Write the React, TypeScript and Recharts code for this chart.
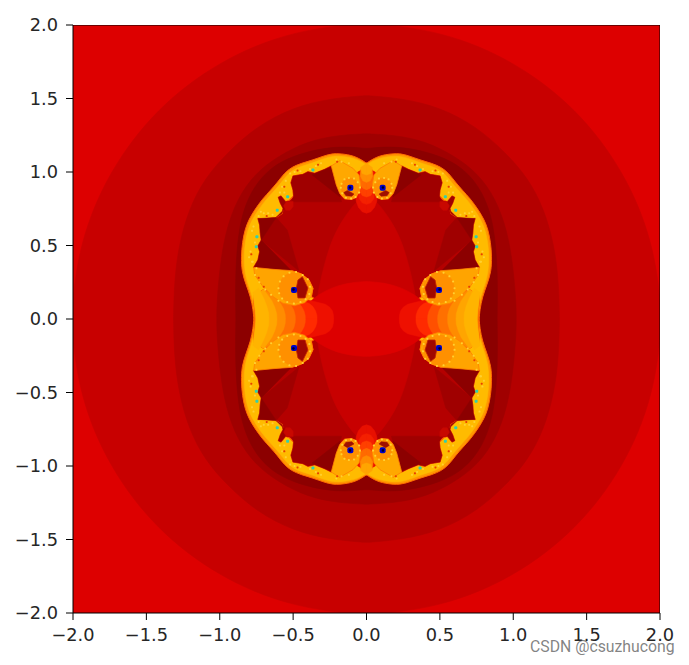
import React from 'react';
import { ScatterChart, Scatter, XAxis, YAxis, Curve } from 'recharts';

type Pt = [number, number];

const TICKS = [-2, -1.5, -1, -0.5, 0, 0.5, 1, 1.5, 2];

// Level sets. The fractal is mirrored across both axes,
// so only the upper right quarter of each contour is listed.
const FIELD: Pt[] = [[-2, 2], [2, 2], [2, -2], [-2, -2]];
const LEVEL_1: Pt[] = [[0, 2.01], [0.26, 1.99], [0.52, 1.94], [0.77, 1.855], [1, 1.74], [1.22, 1.595], [1.42, 1.42], [1.595, 1.22], [1.74, 1], [1.855, 0.77], [1.94, 0.52], [1.99, 0.26], [2.01, 0]];
const LEVEL_2: Pt[] = [[0, 1.52], [0.25, 1.5], [0.5, 1.44], [0.75, 1.31], [0.95, 1.13], [1.1, 0.96], [1.21, 0.75], [1.28, 0.5], [1.31, 0.25], [1.315, 0]];
const LEVEL_3: Pt[] = [[0, 1.26], [0.2, 1.25], [0.4, 1.21], [0.6, 1.11], [0.76, 0.99], [0.88, 0.82], [0.96, 0.6], [1, 0.35], [1.02, 0.1], [1.02, 0]];
const LEVEL_4: Pt[] = [[0, 1.16], [0.227, 1.18], [0.5, 1.115], [0.67, 1.02], [0.79, 0.87], [0.87, 0.65], [0.895, 0.31], [0.89, 0]];

const SILHOUETTE: Pt[] = [[0, 1.06], [0.069, 1.105], [0.148, 1.122], [0.227, 1.128], [0.295, 1.108], [0.364, 1.082], [0.444, 1.06], [0.512, 1.032], [0.562, 0.99], [0.606, 0.93], [0.652, 0.878], [0.71, 0.815], [0.76, 0.746], [0.801, 0.678], [0.828, 0.61], [0.846, 0.52], [0.854, 0.424], [0.85, 0.322], [0.82, 0.231], [0.79, 0.152], [0.772, 0.061], [0.768, 0]];
const CORE: Pt[] = [[0, 1.05], [0.069, 1.09], [0.148, 1.105], [0.227, 1.11], [0.295, 1.09], [0.364, 1.062], [0.444, 1.04], [0.505, 1.012], [0.55, 0.97], [0.59, 0.915], [0.64, 0.86], [0.695, 0.8], [0.745, 0.73], [0.785, 0.665], [0.81, 0.6], [0.828, 0.515], [0.835, 0.42], [0.83, 0.32], [0.805, 0.23], [0.775, 0.15], [0.757, 0.06], [0.752, 0]];
const INTERIOR: Pt[] = [[0, 0.775], [0.047, 0.798], [0.069, 0.828], [0.103, 0.814], [0.149, 0.819], [0.183, 0.855], [0.206, 0.912], [0.224, 0.98], [0.24, 1.041], [0.285, 1.018], [0.353, 0.991], [0.399, 1.002], [0.433, 0.984], [0.501, 0.973], [0.515, 0.927], [0.501, 0.878], [0.497, 0.837], [0.524, 0.81], [0.551, 0.798], [0.583, 0.837], [0.601, 0.828], [0.587, 0.787], [0.569, 0.753], [0.574, 0.719], [0.615, 0.692], [0.683, 0.683], [0.74, 0.683], [0.728, 0.639], [0.724, 0.583], [0.717, 0.537], [0.74, 0.497], [0.728, 0.458], [0.74, 0.401], [0.769, 0.351], [0.637, 0.338], [0.512, 0.329], [0.444, 0.306], [0.392, 0.265], [0.365, 0.209], [0.376, 0.152], [0.331, 0.125], [0.262, 0.073], [0.233, 0.016], [0.228, 0]];
const LENS: Pt[] = [[0, 0.82], [0.05, 0.81], [0.078, 0.789], [0.16, 0.68], [0.228, 0.558], [0.28, 0.4], [0.317, 0.245], [0.34, 0.12], [0.345, 0]];
const CENTRE: Pt[] = [[0, 0.255], [0.08, 0.25], [0.16, 0.236], [0.24, 0.211], [0.32, 0.17], [0.385, 0.12], [0.42, 0.075], [0.435, 0]];

// Dark wedges in the notches between the petals
const WEDGE_TOP: Pt[] = [[0.17, 0.797], [0.183, 0.855], [0.206, 0.912], [0.224, 0.98], [0.24, 1.041], [0.285, 1.018], [0.353, 0.991], [0.399, 1.002], [0.433, 0.984], [0.501, 0.973], [0.515, 0.927], [0.501, 0.878], [0.497, 0.837], [0.51, 0.797]];
const WEDGE_TOP_DARK: Pt[] = [[0.235, 1.034], [0.371, 0.98], [0.18, 0.83]];
const WEDGE_SIDE: Pt[] = [[0.51, 0.797], [0.551, 0.798], [0.583, 0.837], [0.601, 0.828], [0.587, 0.787], [0.569, 0.753], [0.574, 0.719], [0.615, 0.692]];
const WEDGE_FAN: Pt[] = [[0.717, 0.537], [0.46, 0.326], [0.54, 0.605], [0.615, 0.69]];
const WEDGE_UPPER: Pt[] = [[0.615, 0.69], [0.74, 0.683], [0.728, 0.639], [0.724, 0.583], [0.717, 0.537]];
const WEDGE_LOWER: Pt[] = [[0.717, 0.537], [0.74, 0.497], [0.728, 0.458], [0.74, 0.401], [0.769, 0.351], [0.637, 0.338], [0.512, 0.329]];
const GLOW_FINGER: Pt[] = [[0.5, 0.8], [0.545, 0.8], [0.565, 0.77], [0.55, 0.74], [0.52, 0.74], [0.5, 0.765]];

// Tongues on the axes, red at the tip and yellow towards the band
const SIDE_TONGUES: Pt[][] = [
  [[0.224, 0], [0.225, 0.025], [0.232, 0.055], [0.25, 0.08], [0.28, 0.1], [0.32, 0.11], [0.4, 0.13], [0.7, 0.2], [0.77, 0.16], [0.762, 0.06], [0.76, 0]],
  [[0.337, 0], [0.338, 0.025], [0.347, 0.055], [0.365, 0.085], [0.39, 0.105], [0.43, 0.12], [0.7, 0.2], [0.77, 0.16], [0.762, 0.06], [0.76, 0]],
  [[0.417, 0], [0.418, 0.025], [0.426, 0.055], [0.445, 0.09], [0.47, 0.11], [0.5, 0.12], [0.7, 0.2], [0.77, 0.16], [0.762, 0.06], [0.76, 0]],
  [[0.485, 0], [0.486, 0.025], [0.495, 0.06], [0.515, 0.095], [0.56, 0.125], [0.7, 0.2], [0.77, 0.16], [0.762, 0.06], [0.76, 0]],
  [[0.553, 0], [0.554, 0.03], [0.565, 0.07], [0.585, 0.105], [0.62, 0.15], [0.7, 0.2], [0.77, 0.16], [0.762, 0.06], [0.76, 0]],
  [[0.61, 0], [0.612, 0.035], [0.625, 0.08], [0.645, 0.125], [0.7, 0.2], [0.77, 0.16], [0.755, 0.06], [0.752, 0]],
  [[0.665, 0], [0.667, 0.04], [0.68, 0.09], [0.7, 0.14], [0.735, 0.21], [0.775, 0.18], [0.757, 0.06], [0.752, 0]],
];
const TOP_TONGUES: Pt[][] = [
  [[0, 0.72], [0.03, 0.73], [0.055, 0.76], [0.07, 0.8], [0.08, 0.9], [0.06, 1], [0, 1.03]],
  [[0, 0.78], [0.03, 0.79], [0.05, 0.82], [0.06, 0.9], [0.05, 1], [0, 1.03]],
  [[0, 0.83], [0.03, 0.84], [0.045, 0.87], [0.05, 0.93], [0.04, 1], [0, 1.03]],
  [[0, 0.88], [0.025, 0.89], [0.042, 0.92], [0.045, 0.97], [0.03, 1.02], [0, 1.04]],
  [[0, 0.93], [0.025, 0.94], [0.04, 0.97], [0.04, 1.02], [0, 1.05]],
  [[0, 0.98], [0.03, 0.99], [0.04, 1.03], [0, 1.06]],
];

// The two spiral lobes
const LOBE_TOP: Pt[] = [[0.092, 1.025], [0.051, 0.98], [0.0375, 0.9], [0.069, 0.828], [0.103, 0.814], [0.149, 0.819], [0.183, 0.855], [0.206, 0.912], [0.224, 0.98], [0.24, 1.041], [0.183, 1.077]];
const LOBE_SIDE: Pt[] = [[0.512, 0.329], [0.444, 0.306], [0.392, 0.265], [0.365, 0.209], [0.376, 0.152], [0.422, 0.111], [0.49, 0.091], [0.569, 0.107], [0.637, 0.152], [0.705, 0.22], [0.762, 0.3], [0.769, 0.351], [0.637, 0.338]];
const RING_TOP: Pt[] = [[0.175, 0.893], [0.17, 0.92], [0.15, 0.95], [0.12, 0.96], [0.085, 0.955], [0.06, 0.93], [0.045, 0.895], [0.05, 0.86], [0.075, 0.83], [0.105, 0.82], [0.14, 0.825], [0.165, 0.855]];
const RING_SIDE: Pt[] = [[0.6, 0.21], [0.59, 0.255], [0.565, 0.29], [0.525, 0.315], [0.48, 0.32], [0.435, 0.3], [0.4, 0.27], [0.385, 0.22], [0.39, 0.17], [0.415, 0.135], [0.45, 0.115], [0.495, 0.105], [0.54, 0.115], [0.575, 0.14], [0.595, 0.175]];
const NOTCH_TOP: Pt[] = [[0.085, 0.85], [0.1, 0.835], [0.14, 0.838], [0.155, 0.86], [0.13, 0.875]];
const NOTCH_SIDE: Pt[] = [[0.437, 0.288], [0.399, 0.211], [0.419, 0.143], [0.467, 0.143], [0.478, 0.211], [0.467, 0.265]];

const SPECKS_YELLOW: Pt[] = [[0.6, 0.125], [0.65, 0.165], [0.69, 0.2], [0.73, 0.25], [0.76, 0.3], [0.75, 0.345], [0.775, 0.39], [0.12, 1.06], [0.17, 1.07], [0.205, 1.085], [0.31, 1.06], [0.345, 1.04], [0.385, 1.02], [0.45, 1.005], [0.49, 1], [0.52, 0.99], [0.55, 0.94], [0.575, 0.9], [0.56, 0.86], [0.59, 0.86], [0.64, 0.71], [0.67, 0.72], [0.7, 0.72], [0.72, 0.73], [0.735, 0.7], [0.77, 0.63], [0.78, 0.6], [0.76, 0.52], [0.79, 0.46], [0.8, 0.42], [0.78, 0.39]];
const SPECKS_RED: Pt[] = [[0.7, 0.22], [0.735, 0.28], [0.33, 1.05], [0.47, 1.01], [0.56, 0.9], [0.68, 0.7], [0.785, 0.44], [0.2, 1.07]];
const SPOTS_CYAN: Pt[] = [[0.365, 1.014], [0.5375, 0.832], [0.608, 0.739], [0.747, 0.56], [0.751, 0.492], [0.103, 0.885], [0.485, 0.19]];
const SPOTS_BLUE: Pt[] = [[0.11, 0.893], [0.494, 0.197]];
const SPOTS_BLACK: Pt[] = [[0.112, 0.895], [0.498, 0.2]];

const FRAME: Pt[] = [[-2, 2], [2, 2], [2, -2], [-2, -2]];

const SIDE_COLORS = ['#ee1000', '#ff2a00', '#ff5000', '#ff7000', '#ff8c00', '#ffa500', '#ffb400'];
const TOP_COLORS = ['#e81000', '#f42000', '#ff4000', '#ff6a00', '#ff8c00', '#ffa500'];

const loop = (q: Pt[]): Pt[] => [
  ...q,
  ...[...q].reverse().map(([x, y]): Pt => [x, -y]),
  ...q.map(([x, y]): Pt => [-x, -y]),
  ...[...q].reverse().map(([x, y]): Pt => [-x, y]),
];
const fourWay = (pts: Pt[]): Pt[][] => [
  pts,
  pts.map(([x, y]): Pt => [-x, y]),
  pts.map(([x, y]): Pt => [x, -y]),
  pts.map(([x, y]): Pt => [-x, -y]),
];
const flip = (pts: Pt[]): Pt[] => fourWay(pts).flat();
const toRows = (pts: Pt[]) => pts.map(([x, y]) => ({ x, y }));

const noDot = () => <g />;
const fillLine = (fill: string, stroke: string, strokeWidth: number, type: any) => (props: any) => (
  <Curve type={type} points={props.points} fill={fill} stroke={stroke} strokeWidth={strokeWidth} />
);
const spot = (size: number, fill: string) => (props: any) => (
  <rect x={props.cx - size / 2} y={props.cy - size / 2} width={size} height={size} rx={size / 3} fill={fill} />
);

const Region = (pts: Pt[], fill: string, stroke: string, width: number, key: string, type = 'linearClosed') => (
  <Scatter
    key={key}
    data={toRows(pts)}
    line={fillLine(fill, stroke, width, type)}
    shape={noDot}
    isAnimationActive={false}
  />
);
const Smooth = (q: Pt[], fill: string, stroke = fill, width = 0.6) =>
  Region(loop(q), fill, stroke, width, `c-${fill}-${q.length}`, 'basisClosed');
const Mirrored = (pts: Pt[], fill: string, key: string, stroke = fill, width = 0.5) =>
  fourWay(pts).map((p, i) => Region(p, fill, stroke, width, `${key}${i}`));
const Specks = (pts: Pt[], size: number, fill: string) => (
  <Scatter key={`s-${fill}-${size}`} data={toRows(flip(pts))} shape={spot(size, fill)} isAnimationActive={false} />
);

const tickStyle = { fill: '#262626', fontSize: 17.8, fontFamily: 'DejaVu Sans' };
const tickText = (v: number) => v.toFixed(1).replace('-', '\u2212');

const App: React.FC = () => {
  return (
    <div style={{ position: 'absolute', left: 0, top: 0, width: 689, height: 665, background: '#fff' }}>
      <ScatterChart width={689} height={665} margin={{ top: 25, right: 29, bottom: 0, left: 0 }}>
        <XAxis
          type="number"
          dataKey="x"
          domain={[-2, 2]}
          ticks={TICKS}
          interval={0}
          allowDataOverflow
          height={52}
          tickSize={7}
          tickMargin={8}
          stroke="#000"
          tick={tickStyle}
          tickFormatter={tickText}
        />
        <YAxis
          type="number"
          dataKey="y"
          domain={[-2, 2]}
          ticks={TICKS}
          interval={0}
          allowDataOverflow
          width={73}
          tickSize={7}
          tickMargin={8}
          stroke="#000"
          tick={tickStyle}
          tickFormatter={tickText}
        />
        {Region(FIELD, '#dd0000', '#dd0000', 0, 'field')}
        {Smooth(LEVEL_1, '#c80000')}
        {Smooth(LEVEL_2, '#b40000')}
        {Smooth(LEVEL_3, '#a00000')}
        {Smooth(LEVEL_4, '#8c0000')}
        {Smooth(SILHOUETTE, '#ff9800', '#ff6a00', 1)}
        {Smooth(CORE, '#ffbb00')}
        {Region(loop(INTERIOR), '#b40000', '#ff6000', 1.1, 'interior')}
        {Mirrored(WEDGE_TOP, '#a00000', 'wt')}
        {Mirrored(WEDGE_TOP_DARK, '#8c0000', 'wd')}
        {Mirrored(WEDGE_SIDE, '#a00000', 'ws')}
        {Mirrored(WEDGE_FAN, '#a00000', 'wf')}
        {Mirrored(WEDGE_UPPER, '#8c0000', 'wu')}
        {Mirrored(WEDGE_LOWER, '#8c0000', 'wl')}
        {Smooth(LENS, '#c80000')}
        {Smooth(CENTRE, '#dd0000')}
        {Mirrored(GLOW_FINGER, '#c80800', 'gf')}
        {SIDE_TONGUES.map((band, b) => Mirrored(band, SIDE_COLORS[b], `side${b}-`))}
        {TOP_TONGUES.map((band, b) => Mirrored(band, TOP_COLORS[b], `top${b}-`))}
        {Mirrored(LOBE_TOP, '#ffa800', 'lt', '#ff8000', 0.8)}
        {Mirrored(LOBE_SIDE, '#ffa400', 'ls', '#ff8000', 0.8)}
        {Mirrored(RING_TOP, '#ff9000', 'rt')}
        {Mirrored(RING_SIDE, '#ff9000', 'rs')}
        {Mirrored(NOTCH_TOP, '#a01000', 'nt')}
        {Mirrored(NOTCH_SIDE, '#a00800', 'ns', '#c02000', 0.8)}
        {Specks([...RING_TOP, ...RING_SIDE, ...SPECKS_YELLOW], 2, '#ffd030')}
        {Specks(SPECKS_RED, 2, '#e84000')}
        {Specks(SPOTS_CYAN, 3, '#30d0b0')}
        {Specks(SPOTS_BLUE, 6, '#0000c8')}
        {Specks(SPOTS_BLACK, 2.5, '#000020')}
        {Region(FRAME, 'none', '#000', 1, 'frame')}
      </ScatterChart>
      <span
        style={{
          position: 'absolute',
          left: 530,
          top: 637,
          fontFamily: 'Roboto, "Noto Sans", sans-serif',
          fontSize: 15.8,
          color: 'rgba(90,90,90,0.75)',
          whiteSpace: 'nowrap',
        }}
      >
        CSDN @csuzhucong
      </span>
    </div>
  );
};

export default App;
